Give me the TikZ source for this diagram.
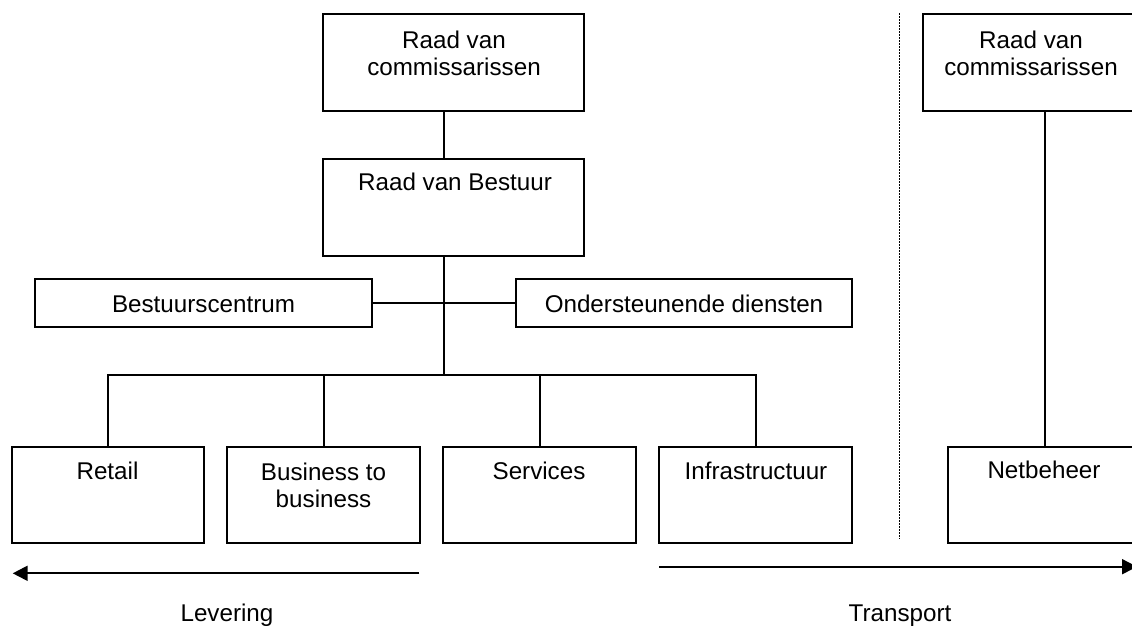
\documentclass[tikz,border=0pt]{standalone}
\usepackage{fontspec}
\setmainfont{Liberation Sans}
\usetikzlibrary{arrows.meta}
\begin{document}
\begin{tikzpicture}[x=1pt,y=-1pt,
  every node/.style={font=\fontsize{24.2}{27}\selectfont},
  box/.style={draw,line width=2pt,rectangle,inner sep=0pt,outer sep=0pt},
  lbl/.style={anchor=base,inner sep=0pt,align=center},
  link/.style={line width=2pt},
  flow/.style={line width=2pt,-{Triangle[length=15pt,width=15pt]}},
  divider/.style={line width=1.5pt,dash pattern=on 1.5pt off 1.5pt}]
\useasboundingbox (0,0) rectangle (1132,625);
\clip (0,0) rectangle (1132,625);

% governance boxes
\node[box,minimum width=261pt,minimum height=97pt] (rvc) at (453.5,62.3) {};
\node[box,minimum width=261pt,minimum height=97pt] (rvb) at (453.5,207.5) {};
\node[box,minimum width=337pt,minimum height=48pt] (bc) at (203.5,303) {};
\node[box,minimum width=336pt,minimum height=48pt] (od) at (684,303) {};

% business units
\node[box,minimum width=192pt,minimum height=96pt] (retail) at (108,495) {};
\node[box,minimum width=193pt,minimum height=96pt] (b2b) at (323.5,495) {};
\node[box,minimum width=193pt,minimum height=96pt] (serv) at (539.5,495) {};
\node[box,minimum width=193pt,minimum height=96pt] (infra) at (755.5,495) {};

% grid operator side
\node[box,minimum width=216pt,minimum height=97pt] (rvc2) at (1031,62.3) {};
\node[box,minimum width=193pt,minimum height=96pt] (net) at (1044.5,495) {};

% labels
\node[lbl] (rvc-t1) at (454,48.5) {Raad van};
\node[lbl] (rvc-t2) at (454,75.5) {commissarissen};
\node[lbl] (rvb-t) at (455,190.5) {Raad van Bestuur};
\node[lbl] (bc-t) at (203.5,312) {Bestuurscentrum};
\node[lbl] (od-t) at (684,312) {Ondersteunende diensten};
\node[lbl] (retail-t) at (107.5,479.5) {Retail};
\node[lbl] (b2b-t1) at (323.5,480) {Business to};
\node[lbl] (b2b-t2) at (323.5,507) {business};
\node[lbl] (serv-t) at (539,479.5) {Services};
\node[lbl] (infra-t) at (756,479.5) {Infrastructuur};
\node[lbl] (rvc2-t1) at (1031,48.5) {Raad van};
\node[lbl] (rvc2-t2) at (1031,75.5) {commissarissen};
\node[lbl] (net-t) at (1044,478.5) {Netbeheer};

% connectors
\coordinate (spine) at (444,303);
\coordinate (bus) at (444,375);
\draw[link] (rvc.south -| spine) -- (rvb.north -| spine);
\draw[link] (rvb.south -| spine) -- (bus);
\draw[link] (bc.east) -- (od.west);
\draw[link] (retail.north) |- (bus) -| (infra.north);
\draw[link] (b2b.north) -- (b2b.north |- bus);
\draw[link] (serv.north) -- (serv.north |- bus);
\draw[link] (rvc2.south -| net.north) -- (net.north);

% separator
\coordinate (sepTop) at (899.3,13);
\coordinate (sepBot) at (899.3,539.3);
\draw[divider] (sepTop) -- (sepBot);

% flow arrows
\coordinate (levA) at (419.3,573.3);
\coordinate (levB) at (12.7,573.3);
\coordinate (traA) at (659,566.7);
\coordinate (traB) at (1137,566.7);
\draw[flow] (levA) -- (levB);
\draw[flow] (traA) -- (traB);
\node[lbl] (lev-t) at (227,621.5) {Levering};
\node[lbl] (tra-t) at (900,621.5) {Transport};
\end{tikzpicture}
\end{document}
